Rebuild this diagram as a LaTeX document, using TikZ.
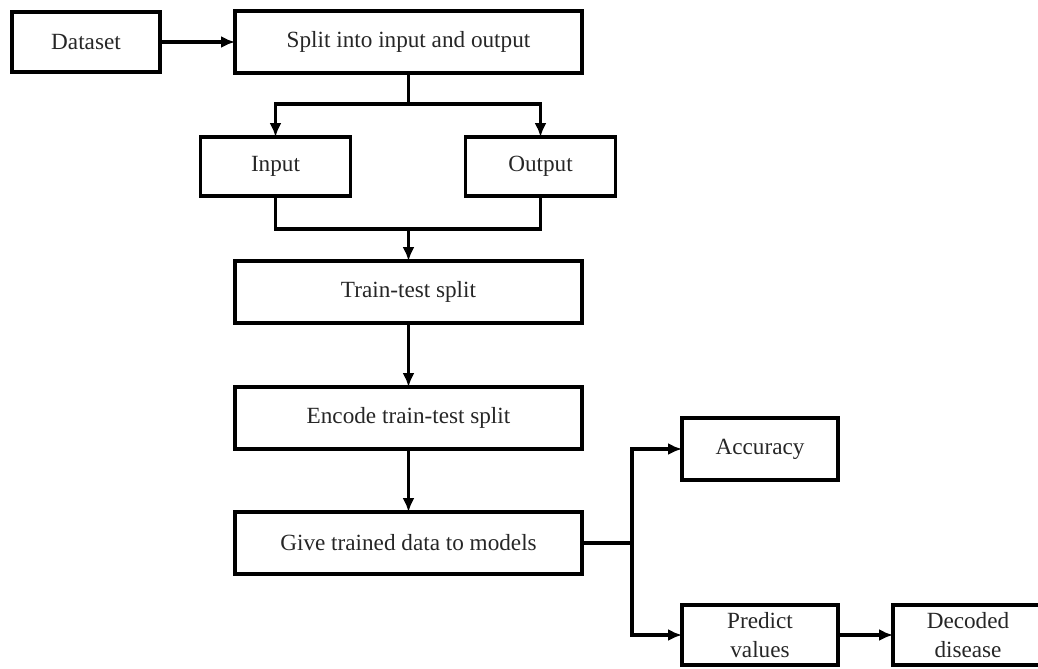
\documentclass[tikz,border=0pt]{standalone}
\usepackage{fontspec}
\setmainfont{Liberation Serif}
\usetikzlibrary{positioning, arrows.meta, calc}

\begin{document}
\begin{tikzpicture}[box/.style={draw, line width=1.8pt, text=black!85, font=\fontsize{13.2}{16}\selectfont, align=center, inner sep=0pt, outer sep=0pt},
    wide/.style={box, minimum width=6.94cm, minimum height=1.24cm},
    arr/.style={line width=1.8pt, -{Latex[length=2.8mm, width=2.4mm]}},
    line/.style={line width=1.8pt}]
      \useasboundingbox (0,0) rectangle (20.76,-13.36);
      \node[box, minimum width=2.96cm, minimum height=1.2cm] (dataset) at (1.72,-0.84) {Dataset};
      \node[wide] (split) [right=1.5cm of dataset] {Split into input and output};
      \node[box, minimum width=3cm, minimum height=1.18cm] (input) [below=1.28cm of split, xshift=-2.66cm] {Input};
      \node[box, minimum width=3cm, minimum height=1.18cm] (output) [below=1.28cm of split, xshift=2.64cm] {Output};
      \node[wide] (train) [below=3.76cm of split] {Train-test split};
      \node[wide] (encode) [below=1.28cm of train] {Encode train-test split};
      \node[wide] (give) [below=1.26cm of encode] {Give trained data to models};
      \node[box, minimum width=3.12cm, minimum height=1.24cm] (accuracy) [right=2cm of give, yshift=1.88cm] {Accuracy};
      \node[box, minimum width=3.12cm, minimum height=1.2cm] (predict) [right=2cm of give, yshift=-1.84cm] {Predict\\values};
      \node[box, minimum width=3cm, minimum height=1.2cm] (decoded) [right=1.1cm of predict] {Decoded\\disease};

      \coordinate[below=0.62cm of split] (splitfork);
      \coordinate (join) at ($(input.south)!0.5!(output.south) + (0,-0.66)$);
      \coordinate[right=1cm of give] (givefork);

      \draw[arr] (dataset) -- (split);
      \draw[line] (split) -- (splitfork);
      \draw[arr] (splitfork) -| (input);
      \draw[arr] (splitfork) -| (output);
      \draw[line] (input) |- (join -| train);
      \draw[line] (output) |- (join -| train);
      \draw[arr] (join -| train) -- (train);
      \draw[arr] (train) -- (encode);
      \draw[arr] (encode) -- (give);
      \draw[line] (give) -- (givefork);
      \draw[arr] (givefork) |- (accuracy);
      \draw[arr] (givefork) |- (predict);
      \draw[arr] (predict) -- (decoded);
    \end{tikzpicture}
\end{document}
